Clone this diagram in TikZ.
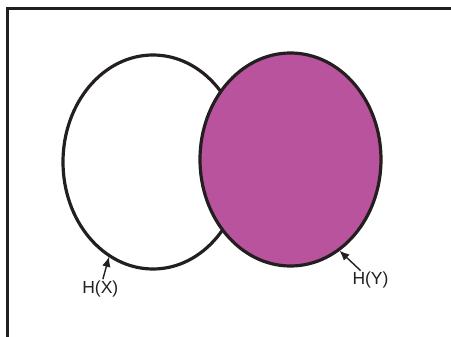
\documentclass[tikz,border=0pt]{standalone}
\usepackage{fontspec}
\setmainfont{Liberation Sans}
\usetikzlibrary{shapes.geometric,arrows.meta}
\definecolor{ink}{RGB}{35,31,32}
\definecolor{magentafill}{RGB}{185,83,157}
\tikzset{
  setcircle/.style={ellipse, draw=ink, line width=3.2pt, inner sep=0pt, outer sep=0pt},
  labeltext/.style={text=ink, font=\fontsize{17.5}{19}\selectfont, inner sep=1pt},
  pointer/.style={draw=ink, line width=1.4pt, shorten >=1.3pt, -{Latex[length=10pt,width=8.5pt]}},
  frameline/.style={draw=ink, line width=3.2pt}
}
\begin{document}
\begin{tikzpicture}[x=1pt,y=-1pt]
\useasboundingbox (0,0) rectangle (451,337);
\fill[white] (0,0) rectangle (451,337);
\draw[frameline] (451,8.3) -- (7.7,8.3) -- (7.7,337);
\node[setcircle, fill=white, minimum width=180pt, minimum height=214pt] (X) at (153,162) {};
\node[setcircle, fill=magentafill, minimum width=181pt, minimum height=213pt] (Y) at (290.5,159.5) {};
\node[labeltext] (hx) at (100.3,288.5) {H(X)};
\node[labeltext] (hy) at (370.5,280) {H(Y)};
\draw[pointer] (hx) -- (X.245);
\draw[pointer] (hy) -- (Y.298);
\end{tikzpicture}
\end{document}
